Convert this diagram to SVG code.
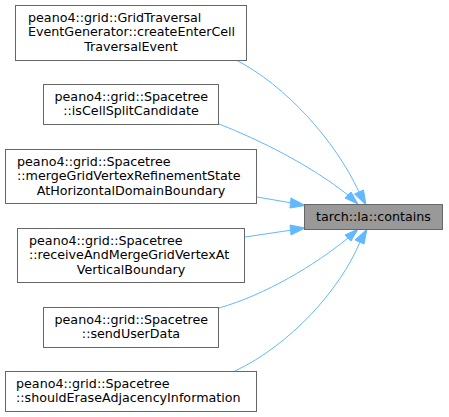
<svg xmlns="http://www.w3.org/2000/svg" width="449" height="417" viewBox="0 0 449 417">
<defs>
<style>
.box{fill:#ffffff;stroke:#666666;stroke-width:1}
.cur{fill:#999999;stroke:#666666;stroke-width:1}
text{font-family:"DejaVu Sans","Liberation Sans",sans-serif;font-size:12.7px;fill:#000000}
.e{fill:none;stroke:#63b8ff;stroke-width:1}
.ah{fill:#63b8ff;stroke:#63b8ff;stroke-width:1}
</style>
</defs>
<rect width="449" height="417" fill="#ffffff"/>
<g id="edges">
<path class="e" d="M236,60 C285,85 335,140 359,192"/>
<polygon class="ah" points="354.5,194 366,205 363.5,190"/>
<path class="e" d="M219,124 C260,140 310,165 348,195"/>
<polygon class="ah" points="345,198 358,204 351,192"/>
<path class="e" d="M257,197 L292,203"/>
<polygon class="ah" points="291,198 305,205.5 290,208"/>
<path class="e" d="M245,237 L292,230"/>
<polygon class="ah" points="290,225 305,228 291,235"/>
<path class="e" d="M219,308 C265,295 315,265 348,238"/>
<polygon class="ah" points="345,235 358,229 351,241"/>
<path class="e" d="M235,371 C290,345 340,290 360,242"/>
<polygon class="ah" points="355,240 367,229 364,244"/>
</g>
<g id="node1">
<rect class="box" x="15.5" y="5.5" width="231" height="55"/>
<text x="28" y="21.5">peano4::grid::GridTraversal</text>
<text x="28" y="36">EventGenerator::createEnterCell</text>
<text x="131" y="50.5" text-anchor="middle">TraversalEvent</text>
</g>
<g id="node2">
<rect class="box" x="43.5" y="84.5" width="175" height="40"/>
<text x="54.5" y="100.5">peano4::grid::Spacetree</text>
<text x="131" y="115" text-anchor="middle">::isCellSplitCandidate</text>
</g>
<g id="node3">
<rect class="box" x="5.5" y="149.5" width="251" height="54"/>
<text x="17" y="165.5">peano4::grid::Spacetree</text>
<text x="17" y="180">::mergeGridVertexRefinementState</text>
<text x="131" y="194.5" text-anchor="middle">AtHorizontalDomainBoundary</text>
</g>
<g id="node4">
<rect class="box" x="17.5" y="228.5" width="227" height="54"/>
<text x="29" y="244.5">peano4::grid::Spacetree</text>
<text x="29" y="259">::receiveAndMergeGridVertexAt</text>
<text x="131" y="273.5" text-anchor="middle">VerticalBoundary</text>
</g>
<g id="node5">
<rect class="box" x="43.5" y="307.5" width="175" height="40"/>
<text x="54.5" y="323.5">peano4::grid::Spacetree</text>
<text x="131" y="338" text-anchor="middle">::sendUserData</text>
</g>
<g id="node6">
<rect class="box" x="5.5" y="371.5" width="251" height="40"/>
<text x="16" y="387.5">peano4::grid::Spacetree</text>
<text x="16" y="402">::shouldEraseAdjacencyInformation</text>
</g>
<g id="target">
<rect class="cur" x="304.5" y="204.5" width="138" height="25"/>
<text x="373.5" y="220.5" text-anchor="middle">tarch::la::contains</text>
</g>
</svg>
